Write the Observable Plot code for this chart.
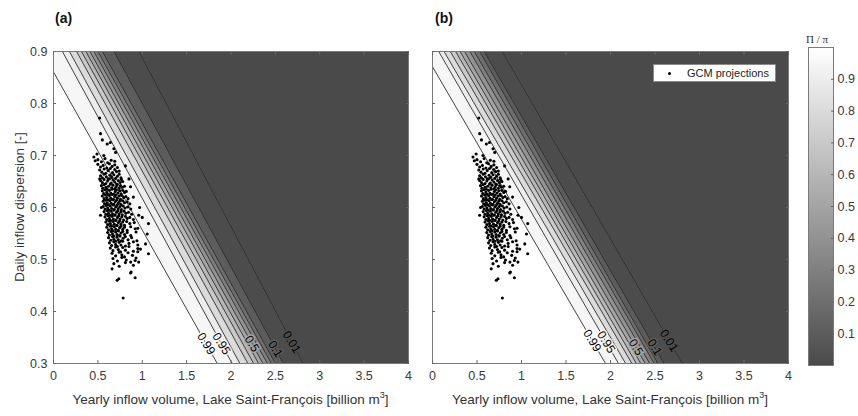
<!DOCTYPE html>
<html>
<head>
<meta charset="utf-8">
<script src="https://cdn.jsdelivr.net/npm/d3@7"></script>
<script src="https://cdn.jsdelivr.net/npm/@observablehq/plot@0.6"></script>
<style>
  body { margin: 0; background: #fff; font-family: "Liberation Sans", Arial, sans-serif; }
  #chart { position: relative; width: 858px; height: 416px; overflow: hidden; background: #fff; }
  #chart svg { position: absolute; top: 0; }
  .abs { position: absolute; white-space: nowrap; color: #333; line-height: 1; }
  .title { font-weight: bold; font-size: 14px; color: #111; }
  .xlab { font-size: 13.5px; text-align: center; }
  .xlab sup { font-size: 9px; vertical-align: 0; position: relative; top: -6px; }
  .ylab { font-size: 13.5px; transform: translate(-50%, -50%) rotate(-90deg); }
  .cbtitle { font-family: "Liberation Serif", "DejaVu Serif", serif; font-size: 11px; transform: translate(-50%, -50%); }
  .legend { border: 1px solid #8a8a8a; background: #fff; box-sizing: border-box; }
  .legend .dot { position: absolute; width: 3px; height: 3px; border-radius: 50%; background: #000; }
  .legend .txt { position: absolute; font-size: 11px; color: #222; }
</style>
</head>
<body>
<div id="chart"></div>
<script>
// ---------- data ----------
const levels = [0.99, 0.95, 0.9, 0.8, 0.7, 0.6, 0.5, 0.4, 0.3, 0.2, 0.1, 0.01];
// x-position of each contour line where it meets the top (y = 0.9) and bottom (y = 0.3) of the axes
const contourTopA    = [-0.13, 0.10, 0.18, 0.26, 0.315, 0.365, 0.41, 0.455, 0.50, 0.55, 0.68, 0.96];
const contourBottomA = [1.845, 2.013, 2.10, 2.19, 2.255, 2.31, 2.36, 2.41, 2.455, 2.50, 2.59, 2.81];
const contourTopB    = [-0.10, 0.07, 0.13, 0.20, 0.26, 0.31, 0.36, 0.42, 0.47, 0.53, 0.58, 0.78];
const contourBottomB = [1.944, 2.09, 2.17, 2.24, 2.29, 2.34, 2.39, 2.44, 2.49, 2.53, 2.60, 2.806];
const lineEdgesY = [0.9, 0.3];
const labelLevels = [0.99, 0.95, 0.5, 0.1, 0.01];
const labelYA = [0.338, 0.338, 0.338, 0.328, 0.341];
const labelYB = [0.344, 0.341, 0.331, 0.331, 0.344];
const xTicks = [0, 0.5, 1, 1.5, 2, 2.5, 3, 3.5, 4];
const yTicks = [0.3, 0.4, 0.5, 0.6, 0.7, 0.8, 0.9];
const colorbarTicks = [0.1, 0.2, 0.3, 0.4, 0.5, 0.6, 0.7, 0.8, 0.9];
const xDomain = [0, 4];
const yDomain = [0.3, 0.9];
// GCM projections: [yearly inflow volume, daily inflow dispersion]
const gcmProjections = [
  [0.50,0.692],[0.54,0.688],[0.58,0.694],[0.61,0.686],[0.65,0.691],[0.69,0.689],
  [0.50,0.683],[0.53,0.678],[0.56,0.681],[0.60,0.676],[0.63,0.684],[0.66,0.679],[0.69,0.682],[0.72,0.677],
  [0.52,0.672],[0.545,0.668],[0.57,0.674],[0.59,0.666],[0.615,0.671],[0.64,0.675],[0.665,0.667],[0.69,0.673],[0.71,0.669],[0.74,0.670],
  [0.53,0.661],[0.55,0.657],[0.57,0.664],[0.595,0.659],[0.615,0.655],[0.635,0.662],[0.655,0.658],[0.68,0.663],[0.70,0.656],[0.72,0.660],[0.74,0.664],[0.76,0.657],
  [0.53,0.652],[0.55,0.648],[0.57,0.654],[0.59,0.646],[0.61,0.651],[0.63,0.655],[0.65,0.647],[0.67,0.653],[0.69,0.649],[0.71,0.645],[0.73,0.652],[0.75,0.648],[0.765,0.654],[0.78,0.650],
  [0.54,0.642],[0.555,0.637],[0.57,0.644],[0.59,0.639],[0.605,0.635],[0.62,0.641],[0.64,0.645],[0.655,0.638],[0.67,0.643],[0.69,0.636],[0.705,0.640],[0.72,0.644],[0.74,0.637],[0.755,0.642],[0.775,0.639],[0.80,0.641],
  [0.55,0.632],[0.565,0.627],[0.58,0.634],[0.60,0.629],[0.615,0.625],[0.63,0.633],[0.645,0.628],[0.66,0.635],[0.68,0.626],[0.695,0.631],[0.71,0.634],[0.725,0.628],[0.745,0.632],[0.76,0.626],[0.78,0.633],[0.80,0.629],[0.82,0.631],
  [0.55,0.622],[0.57,0.617],[0.585,0.624],[0.60,0.619],[0.615,0.615],[0.63,0.623],[0.645,0.618],[0.66,0.625],[0.675,0.616],[0.69,0.621],[0.705,0.624],[0.72,0.618],[0.74,0.622],[0.755,0.616],[0.77,0.623],[0.79,0.619],[0.815,0.621],[0.84,0.617],
  [0.56,0.612],[0.575,0.607],[0.59,0.614],[0.605,0.609],[0.62,0.605],[0.635,0.613],[0.65,0.608],[0.665,0.615],[0.68,0.606],[0.695,0.611],[0.71,0.614],[0.73,0.608],[0.745,0.612],[0.76,0.606],[0.78,0.613],[0.80,0.609],[0.83,0.611],[0.86,0.607],
  [0.56,0.602],[0.58,0.597],[0.595,0.604],[0.61,0.599],[0.625,0.595],[0.64,0.603],[0.655,0.598],[0.67,0.605],[0.685,0.596],[0.70,0.601],[0.715,0.604],[0.73,0.598],[0.75,0.602],[0.765,0.596],[0.785,0.603],[0.805,0.599],[0.835,0.601],[0.87,0.597],
  [0.57,0.592],[0.59,0.587],[0.605,0.594],[0.62,0.589],[0.635,0.585],[0.65,0.593],[0.665,0.588],[0.68,0.595],[0.695,0.586],[0.71,0.591],[0.725,0.594],[0.74,0.588],[0.76,0.592],[0.775,0.586],[0.795,0.593],[0.815,0.589],[0.845,0.591],[0.88,0.587],
  [0.58,0.582],[0.60,0.577],[0.615,0.584],[0.63,0.579],[0.645,0.575],[0.66,0.583],[0.675,0.578],[0.69,0.585],[0.705,0.576],[0.72,0.581],[0.735,0.584],[0.75,0.578],[0.77,0.582],[0.79,0.576],[0.81,0.583],[0.83,0.579],[0.86,0.581],[0.90,0.577],
  [0.59,0.572],[0.61,0.567],[0.625,0.574],[0.64,0.569],[0.655,0.565],[0.67,0.573],[0.685,0.568],[0.70,0.575],[0.715,0.566],[0.73,0.571],[0.745,0.574],[0.76,0.568],[0.78,0.572],[0.80,0.566],[0.825,0.573],[0.86,0.569],[0.91,0.571],
  [0.60,0.562],[0.62,0.557],[0.64,0.564],[0.655,0.559],[0.67,0.555],[0.685,0.563],[0.70,0.558],[0.715,0.565],[0.73,0.556],[0.745,0.561],[0.76,0.564],[0.78,0.558],[0.80,0.562],[0.83,0.556],[0.87,0.563],[0.92,0.559],
  [0.61,0.552],[0.63,0.547],[0.65,0.554],[0.665,0.549],[0.68,0.545],[0.70,0.553],[0.715,0.548],[0.73,0.555],[0.745,0.546],[0.76,0.551],[0.78,0.554],[0.80,0.548],[0.83,0.552],[0.87,0.546],[0.93,0.553],
  [0.62,0.542],[0.645,0.537],[0.665,0.544],[0.68,0.539],[0.70,0.535],[0.715,0.543],[0.73,0.538],[0.75,0.545],[0.765,0.536],[0.785,0.541],[0.81,0.544],[0.84,0.538],[0.88,0.542],[0.94,0.536],
  [0.63,0.532],[0.655,0.527],[0.68,0.534],[0.70,0.529],[0.72,0.525],[0.74,0.533],[0.76,0.528],[0.78,0.535],[0.81,0.526],[0.85,0.531],[0.90,0.534],[0.95,0.528],
  [0.64,0.522],[0.67,0.517],[0.70,0.524],[0.73,0.519],[0.755,0.515],[0.78,0.523],[0.81,0.518],[0.85,0.525],[0.90,0.516],[0.95,0.521],
  [0.66,0.512],[0.70,0.507],[0.74,0.514],[0.77,0.509],[0.80,0.505],[0.84,0.513],[0.89,0.508],[0.95,0.515],
  [0.67,0.502],[0.72,0.497],[0.77,0.504],[0.82,0.499],[0.87,0.495],[0.93,0.503],
  [0.68,0.492],[0.74,0.487],[0.81,0.494],[0.90,0.489],
  [0.52,0.772],[0.53,0.742],[0.55,0.730],[0.605,0.722],[0.64,0.725],[0.68,0.713],[0.70,0.706],
  [0.455,0.697],[0.49,0.703],[0.47,0.690],[0.567,0.700],[0.81,0.680],[0.868,0.640],
  [0.96,0.585],[1.00,0.581],[1.07,0.569],[1.056,0.549],[1.07,0.511],[1.037,0.530],
  [0.66,0.482],[0.736,0.463],[0.717,0.460],[0.785,0.426],[0.868,0.474],[0.92,0.465],
  [0.92,0.498],[0.96,0.495],[0.875,0.476],[0.98,0.520],[0.95,0.560],[0.97,0.600],
  [0.90,0.620],[0.85,0.655],[0.53,0.585],[0.54,0.600],[0.52,0.655]
];

// ---------- derived tables ----------
const [yTop, yBottom] = lineEdgesY;
function bandRows(tops, bottoms) {
  const rows = [];
  levels.forEach((lev, i) => {
    const last = i === levels.length - 1;
    const value = last ? 0 : levels[i + 1];
    rows.push({band: i, value, y: yTop, x1: tops[i], x2: last ? xDomain[1] : tops[i + 1]});
    rows.push({band: i, value, y: yBottom, x1: bottoms[i], x2: last ? xDomain[1] : bottoms[i + 1]});
  });
  return rows;
}
function lineRows(tops, bottoms) {
  return levels.map((lev, i) => ({level: lev, x1: tops[i], y1: yTop, x2: bottoms[i], y2: yBottom}));
}
function labelRows(tops, bottoms, ys) {
  return labelLevels.map((lev, k) => {
    const i = levels.indexOf(lev);
    const t = (yTop - ys[k]) / (yTop - yBottom);
    return {level: lev, text: String(lev), y: ys[k], x: tops[i] + (bottoms[i] - tops[i]) * t};
  });
}
const gcm = gcmProjections.map(([v, d]) => ({volume: v, dispersion: d}));

const colorScale = {type: "linear", domain: [0, 1], range: ["#4a4a4a", "#ffffff"], interpolate: "rgb"};
const axisColor = "#3a3a3a";

function panel({tops, bottoms, labelYs, width, marginLeft, yLabels}) {
  const marks = [
    Plot.areaX(bandRows(tops, bottoms), {y: "y", x1: "x1", x2: "x2", z: "band", fill: "value", clip: true}),
    Plot.link(lineRows(tops, bottoms), {x1: "x1", y1: "y1", x2: "x2", y2: "y2", stroke: "#222", strokeWidth: 0.85, clip: true}),
    Plot.text(labelRows(tops, bottoms, labelYs), {x: "x", y: "y", text: "text", rotate: 58, fill: "#000",
      stroke: "level", strokeWidth: 3, paintOrder: "stroke", fontSize: 12}),
    Plot.dot(gcm, {x: "volume", y: "dispersion", r: 1.55, fill: "#000", stroke: null}),
    Plot.frame({stroke: "#7a7a7a", strokeWidth: 1}),
    Plot.axisX(xTicks, {anchor: "bottom", tickSize: -3, tickFormat: () => "", label: null, stroke: "#666"}),
    Plot.axisX(xTicks, {anchor: "top", tickSize: -3, tickFormat: () => "", label: null, stroke: "#666"}),
    Plot.axisY(yTicks, {anchor: "left", tickSize: -3, tickFormat: () => "", label: null, stroke: "#666"}),
    Plot.axisY(yTicks, {anchor: "right", tickSize: -3, tickFormat: () => "", label: null, stroke: "#666"}),
    Plot.axisX(xTicks, {anchor: "bottom", tickSize: 0, tickPadding: 8, tickFormat: d => String(d), label: null, fill: axisColor})
  ];
  if (yLabels) marks.push(Plot.axisY(yTicks, {anchor: "left", tickSize: 0, tickPadding: 6, tickFormat: d => d.toFixed(1), label: null, fill: axisColor}));
  return Plot.plot({
    width, height: 416, marginLeft, marginRight: 12, marginTop: 51, marginBottom: 53,
    x: {domain: xDomain, label: null},
    y: {domain: yDomain, label: null},
    color: colorScale,
    style: {background: "none", fontFamily: "'Liberation Sans', Arial, sans-serif", fontSize: "12.5px", overflow: "visible"},
    marks
  });
}

const chart = document.getElementById("chart");

const svgA = panel({tops: contourTopA, bottoms: contourBottomA, labelYs: labelYA, width: 420, marginLeft: 53, yLabels: true});
svgA.style.left = "0px";
chart.appendChild(svgA);

const svgB = panel({tops: contourTopB, bottoms: contourBottomB, labelYs: labelYB, width: 380, marginLeft: 12, yLabels: false});
svgB.style.left = "420px";
chart.appendChild(svgB);

const svgC = Plot.plot({
  width: 58, height: 416, marginLeft: 8, marginRight: 25, marginTop: 47, marginBottom: 51,
  x: {domain: [0, 1], axis: null},
  y: {domain: [0, 1], label: null, axis: null},
  color: colorScale,
  style: {background: "none", fontFamily: "'Liberation Sans', Arial, sans-serif", fontSize: "12.5px", overflow: "visible"},
  marks: [
    Plot.raster({x1: 0, x2: 1, y1: 0, y2: 1, fill: (x, y) => y, width: 2, height: 318}),
    Plot.frame({stroke: "#7a7a7a"}),
    Plot.axisY(colorbarTicks, {anchor: "right", tickSize: -3, tickFormat: () => "", label: null, stroke: "#666"}),
    Plot.axisY(colorbarTicks, {anchor: "right", tickSize: 0, tickPadding: 4, tickFormat: d => String(d), label: null, fill: axisColor})
  ]
});
svgC.style.left = "800px";
chart.appendChild(svgC);

// ---------- text overlays ----------
function addDiv(cls, html, css) {
  const d = document.createElement("div");
  d.className = "abs " + cls;
  d.innerHTML = html;
  Object.assign(d.style, css);
  chart.appendChild(d);
  return d;
}
addDiv("title", "(a)", {left: "55px", top: "11px"});
addDiv("title", "(b)", {left: "435px", top: "11px"});
addDiv("ylab", "Daily inflow dispersion [-]", {left: "20px", top: "207px"});
const xTitle = "Yearly inflow volume, Lake Saint-François [billion m<sup>3</sup>]";
addDiv("xlab", xTitle, {left: "53px", width: "355px", top: "393px"});
addDiv("xlab", xTitle, {left: "432px", width: "356px", top: "393px"});
addDiv("cbtitle", "Π / π", {left: "817px", top: "39px"});
const leg = addDiv("legend", "", {left: "653px", top: "64px", width: "123px", height: "18px"});
const legDot = document.createElement("div"); legDot.className = "dot";
Object.assign(legDot.style, {left: "14px", top: "7px"});
leg.appendChild(legDot);
const legTxt = document.createElement("div"); legTxt.className = "txt"; legTxt.textContent = "GCM projections";
Object.assign(legTxt.style, {left: "33px", top: "3px"});
leg.appendChild(legTxt);
</script>
</body>
</html>
